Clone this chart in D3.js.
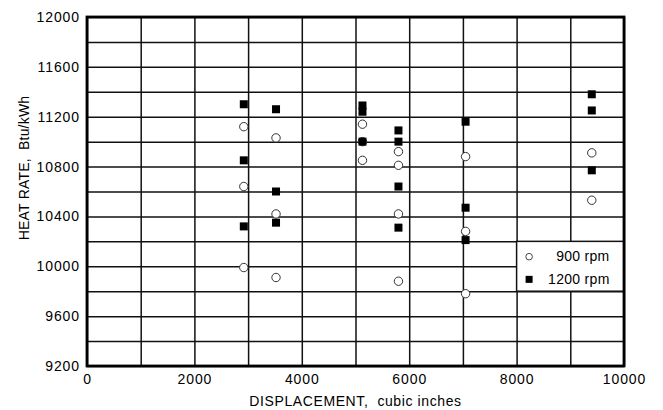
<!DOCTYPE html>
<html>
<head>
<meta charset="utf-8">
<script src="https://cdn.jsdelivr.net/npm/d3@7/dist/d3.min.js"></script>
<style>
  body { margin: 0; background: #fff; }
  text { font-family: "Liberation Sans", Arial, sans-serif; fill: #000; }
</style>
</head>
<body>
<div id="chart"></div>
<script>

// ---- data ----
var displacement900 = [2920, 2920, 2920, 3520, 3520, 3520, 5130, 5130, 5130, 5800, 5800, 5800, 5800, 7050, 7050, 7050, 9400, 9400];
var heatRate900     = [11120, 10640, 9990, 11030, 10420, 9910, 11140, 11000, 10850, 10920, 10810, 10420, 9880, 10880, 10280, 9780, 10910, 10530];

var displacement1200 = [2920, 2920, 2920, 3520, 3520, 3520, 5130, 5130, 5130, 5800, 5800, 5800, 5800, 7050, 7050, 7050, 9400, 9400, 9400];
var heatRate1200     = [11300, 10850, 10320, 11260, 10600, 10350, 11290, 11240, 11000, 11090, 11000, 10640, 10310, 11160, 10470, 10210, 11380, 11250, 10770];

var xTicks = [0, 2000, 4000, 6000, 8000, 10000];
var yTicks = [9200, 9600, 10000, 10400, 10800, 11200, 11600, 12000];
var legendLabels = ["900 rpm", "1200 rpm"];

// ---- layout ----
var margin = {top: 17, right: 39, bottom: 44, left: 87};
var width = 663 - margin.left - margin.right;
var height = 410 - margin.top - margin.bottom;

var svg = d3.select("#chart").append("svg")
    .attr("width", 663)
    .attr("height", 410)
    .append("g")
    .attr("transform", "translate(" + margin.left + "," + margin.top + ")");

var x = d3.scaleLinear().domain([0, 10000]).range([0, width]);
var y = d3.scaleLinear().domain([9200, 12000]).range([height, 0]);

// grid lines
svg.append("g")
    .attr("class", "grid")
    .attr("transform", "translate(0," + height + ")")
    .call(d3.axisBottom(x).tickValues(d3.range(0, 10001, 1000)).tickSize(-height).tickFormat(""))
    .call(function(g) { g.select(".domain").remove(); })
    .selectAll("line").attr("stroke", "#111").attr("stroke-width", 1.5);

svg.append("g")
    .attr("class", "grid")
    .call(d3.axisLeft(y).tickValues(d3.range(9200, 12001, 200)).tickSize(-width).tickFormat(""))
    .call(function(g) { g.select(".domain").remove(); })
    .selectAll("line").attr("stroke", "#111").attr("stroke-width", 1.5);

// legend box sits on the grid (8000..10000, 9800..10200)
var lx0 = x(8000), lx1 = x(10000), ly0 = y(10200), ly1 = y(9800);
svg.append("rect")
    .attr("x", lx0)
    .attr("y", ly0)
    .attr("width", lx1 - lx0)
    .attr("height", ly1 - ly0)
    .attr("fill", "#fff")
    .attr("stroke", "#111")
    .attr("stroke-width", 1.5);

// frame
svg.append("rect")
    .attr("width", width)
    .attr("height", height)
    .attr("fill", "none")
    .attr("stroke", "#000")
    .attr("stroke-width", 2.8);

// tick labels
var xAxis = svg.append("g")
    .attr("transform", "translate(0," + height + ")")
    .call(d3.axisBottom(x).tickValues(xTicks).tickSize(0).tickPadding(8).tickFormat(d3.format("d")));
xAxis.select(".domain").remove();
xAxis.selectAll("text")
    .style("font-size", "14px")
    .style("letter-spacing", "0.9px")
    .style("font-family", "Liberation Sans, Arial, sans-serif")
    .attr("fill", "#000");

var yAxis = svg.append("g")
    .call(d3.axisLeft(y).tickValues(yTicks).tickSize(0).tickPadding(7).tickFormat(d3.format("d")));
yAxis.select(".domain").remove();
yAxis.selectAll("text")
    .style("font-size", "14px")
    .style("letter-spacing", "0.9px")
    .style("font-family", "Liberation Sans, Arial, sans-serif")
    .attr("fill", "#000");

// axis titles
svg.append("text")
    .attr("x", width / 2)
    .attr("y", height + 40)
    .attr("text-anchor", "middle")
    .style("font-size", "14px")
    .style("letter-spacing", "0.6px")
    .style("white-space", "pre")
    .text("DISPLACEMENT,  cubic inches");

svg.append("text")
    .attr("transform", "translate(" + (29 - margin.left) + "," + (168 - margin.top) + ") rotate(-90)")
    .attr("text-anchor", "middle")
    .style("font-size", "14px")
    .style("letter-spacing", "0.2px")
    .style("white-space", "pre")
    .text("HEAT RATE,  Btu/kWh");

// points: 900 rpm open circles, 1200 rpm filled squares
var pts900 = displacement900.map(function(d, i) { return {x: d, y: heatRate900[i]}; });
var pts1200 = displacement1200.map(function(d, i) { return {x: d, y: heatRate1200[i]}; });

svg.selectAll(".c900")
    .data(pts900)
    .enter()
    .append("circle")
    .attr("class", "c900")
    .attr("cx", function(d) { return x(d.x); })
    .attr("cy", function(d) { return y(d.y); })
    .attr("r", 4.2)
    .attr("fill", "#fff")
    .attr("stroke", "#333")
    .attr("stroke-width", 1);

var sq = 8;
svg.selectAll(".s1200")
    .data(pts1200)
    .enter()
    .append("rect")
    .attr("class", "s1200")
    .attr("x", function(d) { return x(d.x) - sq / 2; })
    .attr("y", function(d) { return y(d.y) - sq / 2; })
    .attr("width", sq)
    .attr("height", sq)
    .attr("fill", "#000");

// legend entries
var legend = svg.append("g");
legend.append("circle")
    .attr("cx", lx0 + 12.5)
    .attr("cy", ly0 + 15.3)
    .attr("r", 3.3)
    .attr("fill", "#fff")
    .attr("stroke", "#333")
    .attr("stroke-width", 0.9);
legend.append("rect")
    .attr("x", lx0 + 9)
    .attr("y", ly0 + 34.5)
    .attr("width", 7)
    .attr("height", 7)
    .attr("fill", "#000");

legend.selectAll(".lbl")
    .data(legendLabels)
    .enter()
    .append("text")
    .attr("class", "lbl")
    .attr("x", lx0 + 93)
    .attr("y", function(d, i) { return ly0 + 20 + i * 22.5; })
    .attr("text-anchor", "end")
    .style("font-size", "14px")
    .style("letter-spacing", "0.3px")
    .text(function(d) { return d; });

</script>
</body>
</html>
